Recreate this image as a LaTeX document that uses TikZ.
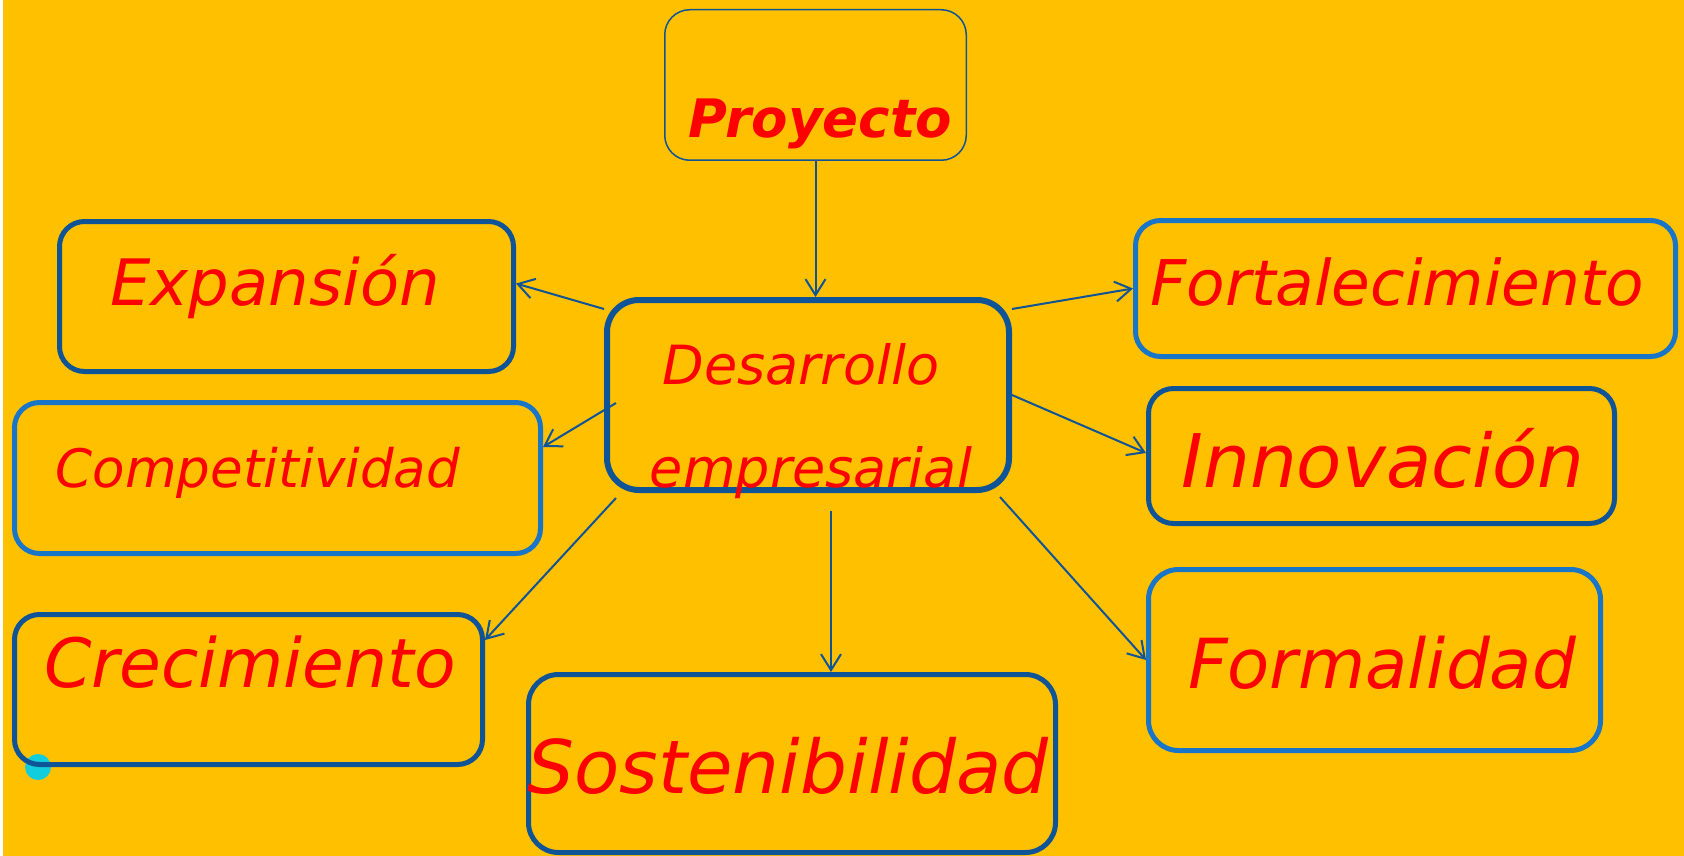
\documentclass[tikz,border=0pt]{standalone}
\usepackage{fontspec}
\setmainfont{DejaVu Sans}
\usetikzlibrary{arrows.meta,calc}
\definecolor{fondo}{HTML}{FFC000}
\definecolor{azul}{HTML}{0F5496}
\definecolor{celeste}{HTML}{1875C8}
\definecolor{rojo}{HTML}{FF0000}
\definecolor{turquesa}{HTML}{12CEDC}
\newcommand\tam[1]{\fontsize{#1}{#1}\selectfont}
\begin{document}
\begin{tikzpicture}[x=1pt, y=-1pt,
          caja/.style={draw=azul, line width=5pt, rounded corners=25pt, inner sep=0pt},
          caja clara/.style={caja, draw=celeste},
          texto/.style={text=rojo, inner sep=0pt, anchor=base, font=\itshape\tam{#1}},
          flecha/.style={draw=azul, line width=2pt, -{Straight Barb[length=16pt,width=20pt]}}]
          \useasboundingbox (0,0) rectangle (1684,856);
          \fill[white] (0,0) rectangle (1684,856);
          \fill[fondo] (3,0) rectangle (1684,856);
          \fill[turquesa] (38,767) circle (13);
          % cajas
          \node[caja, line width=1.5pt, minimum width=301.5pt, minimum height=150.5pt] (pro) at (815.5,85) {};
          \node[caja, line width=6pt, rounded corners=32pt, minimum width=402pt, minimum height=190pt] (des) at (808,395) {};
          \node[caja, minimum width=454pt, minimum height=150pt] (exp) at (286.5,296.5) {};
          \node[caja clara, minimum width=526pt, minimum height=151pt] (comp) at (277.5,478) {};
          \node[caja, minimum width=468pt, minimum height=150pt] (crec) at (248.5,689.5) {};
          \node[caja, rounded corners=30pt, minimum width=527pt, minimum height=178pt] (sost) at (792,763.5) {};
          \node[caja clara, minimum width=540pt, minimum height=136pt] (fort) at (1405.5,288.5) {};
          \node[caja, minimum width=466pt, minimum height=135pt] (innov) at (1381.5,456) {};
          \node[caja clara, rounded corners=30pt, minimum width=452pt, minimum height=181pt] (form) at (1374.5,660) {};
          % textos
          \node[texto=53, font=\bfseries\itshape\tam{53}] (proT) at (820,138) {Proyecto};
          \node[texto=54] (desT1) at (801,384) {Desarrollo};
          \node[texto=54] (desT2) at (811,487) {empresarial};
          \node[texto=64] (expT) at (275,305) {Expansión};
          \node[texto=53] (compT) at (258,487) {Competitividad};
          \node[texto=68] (crecT) at (250,687) {Crecimiento};
          \node[texto=74] (sostT) at (788,793) {Sostenibilidad};
          \node[texto=63] (fortT) at (1397,305) {Fortalecimiento};
          \node[texto=74] (innovT) at (1383,487) {Innovación};
          \node[texto=69] (formT) at (1382,688) {Formalidad};
          % flechas
          \coordinate (sExp) at ([yshift=-12pt]des.north west);
          \coordinate (sComp) at ([xshift=12pt, yshift=-8pt]des.west);
          \coordinate (sCrec) at ([xshift=12pt, yshift=-5pt]des.south west);
          \coordinate (sSost) at ([xshift=23pt, yshift=-18pt]des.south);
          \coordinate (sFort) at ([yshift=-12pt]des.north east);
          \coordinate (sInnov) at (des.east);
          \coordinate (sForm) at ([xshift=-12pt, yshift=-4pt]des.south east);
          \draw[flecha] (pro.south) -- (pro.south |- des.north);
          \draw[flecha] (sExp) -- ([yshift=13pt]exp.east);
          \draw[flecha] (sComp) -- ([yshift=31pt]comp.east);
          \draw[flecha] (sCrec) -- ([yshift=-28pt]crec.north east);
          \draw[flecha] (sSost) -- (sSost |- sost.north);
          \draw[flecha] (sFort) -- (fort.west);
          \draw[flecha] (sInnov) -- ([yshift=3pt]innov.west);
          \draw[flecha] (sForm) -- (form.west);
\end{tikzpicture}
\end{document}
